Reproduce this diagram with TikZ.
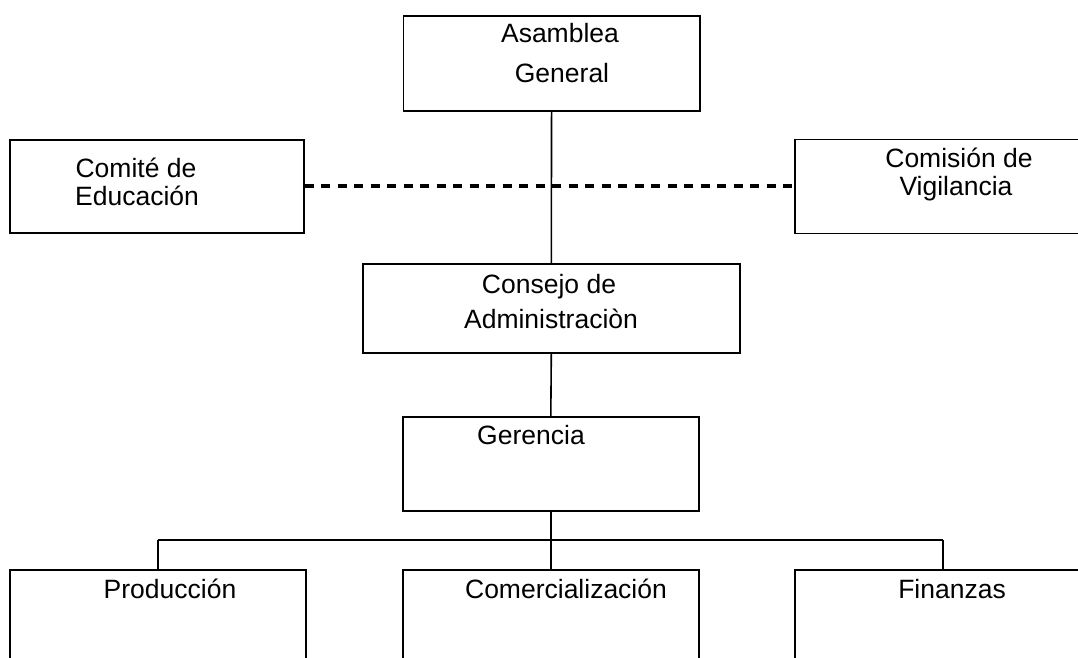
\documentclass[tikz,border=0pt]{standalone}
\usepackage{fontspec}
\setmainfont{Liberation Sans}
\begin{document}
\begin{tikzpicture}[x=1pt,y=-1pt,
  box/.style={draw=black, line width=1.6pt, fill=white, inner sep=0pt, anchor=north west},
  lbl/.style={anchor=base, inner sep=0pt, font=\fontsize{26.5}{30}\selectfont},
  conn/.style={draw=black, line width=1.6pt},
  dashconn/.style={draw=black, line width=4pt, dash pattern=on 9pt off 7.5pt}]
\clip (0,0) rectangle (1078,658);
\fill[white] (0,0) rectangle (1078,658);
% boxes
\node[box, minimum width=296.5pt, minimum height=95pt] (asam) at (402.5,15) {};
\node[box, minimum width=294pt, minimum height=93pt] (comite) at (9,139) {};
\node[box, minimum width=296pt, minimum height=94pt] (comision) at (794,138.5) {};
\node[box, minimum width=377pt, minimum height=89pt] (consejo) at (362,263) {};
\node[box, minimum width=296pt, minimum height=94pt] (geren) at (402,416) {};
\node[box, minimum width=296pt, minimum height=140pt] (prod) at (9,569) {};
\node[box, minimum width=296pt, minimum height=140pt] (comer) at (402,569) {};
\node[box, minimum width=296pt, minimum height=140pt] (fin) at (794,569) {};
% connectors
\draw[conn] (asam.south) -- (consejo.north);
\draw[conn] (consejo.south) -- (geren.north);
\coordinate (bus) at (geren.south |- 0,540);
\coordinate (busL) at (prod.north |- 0,540);
\coordinate (busR) at (fin.north |- 0,540);
\draw[conn] (geren.south) -- (bus);
\draw[conn] (busL) -- (busR);
\draw[conn] (busL) -- (prod.north);
\draw[conn] (bus) -- (comer.north);
\draw[conn] (busR) -- (fin.north);
\draw[dashconn] (comite.east) -- (comision.west);
% labels
\node[lbl] (t1a) at (560,43) {Asamblea};
\node[lbl] (t1b) at (562,83) {General};
\node[lbl] (t2a) at (136,177) {Comité de};
\node[lbl] (t2b) at (137,205) {Educación};
\node[lbl] (t3a) at (959,167) {Comisión de};
\node[lbl] (t3b) at (956,195) {Vigilancia};
\node[lbl] (t4a) at (549,293) {Consejo de};
\node[lbl] (t4b) at (551,328) {Administraciòn};
\node[lbl] (t5) at (531,444) {Gerencia};
\node[lbl] (t6) at (170,598) {Producción};
\node[lbl] (t7) at (566,598) {Comercialización};
\node[lbl] (t8) at (952,598) {Finanzas};
\end{tikzpicture}
\end{document}
